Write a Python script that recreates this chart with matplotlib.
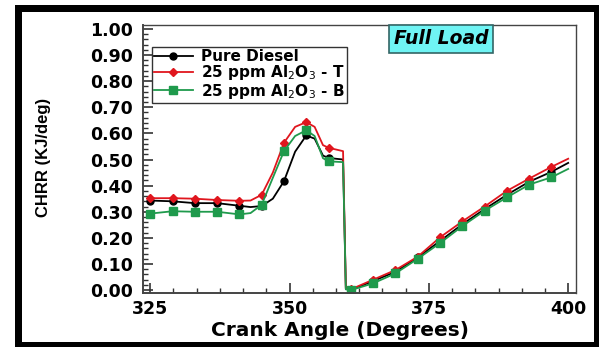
import matplotlib
matplotlib.use("Agg")
import matplotlib.pyplot as plt
from matplotlib.ticker import AutoMinorLocator, MultipleLocator, FormatStrFormatter
from matplotlib.patches import Rectangle

# Crank angle samples (degrees) and heat-release rate for each fuel
crank = [325, 329, 333, 337, 341, 343, 345, 347, 349, 351, 353, 354.5, 356, 357,
         359.6, 360.1, 361, 365, 369, 373, 377, 381, 385, 389, 393, 397, 400]
pure_diesel = [0.343, 0.340, 0.333, 0.333, 0.323, 0.318, 0.322, 0.350, 0.417, 0.530,
               0.592, 0.580, 0.515, 0.506, 0.500, 0.005, 0.000, 0.035, 0.070, 0.125,
               0.188, 0.252, 0.310, 0.365, 0.415, 0.453, 0.487]
al2o3_t = [0.352, 0.352, 0.350, 0.345, 0.342, 0.343, 0.365, 0.450, 0.564, 0.625,
           0.643, 0.625, 0.555, 0.545, 0.532, 0.008, 0.003, 0.040, 0.077, 0.128,
           0.202, 0.263, 0.320, 0.380, 0.427, 0.472, 0.503]
al2o3_b = [0.293, 0.302, 0.300, 0.300, 0.290, 0.295, 0.327, 0.430, 0.532, 0.590,
           0.612, 0.590, 0.505, 0.493, 0.490, 0.003, 0.000, 0.026, 0.064, 0.120,
           0.180, 0.245, 0.304, 0.355, 0.404, 0.432, 0.464]
marker_angles = list(range(325, 398, 4))

series_labels = ["Pure Diesel", r"25 ppm Al$_2$O$_3$ - T", r"25 ppm Al$_2$O$_3$ - B"]

marks = [i for i, a in enumerate(crank) if a in marker_angles]

fig = plt.figure(figsize=(5.99, 3.47), dpi=100)
ax = fig.add_axes([0.2387, 0.1556, 0.9616 - 0.2387, 0.928 - 0.1556])

ax.plot(crank, pure_diesel, color="black", lw=1.3, marker="o", ms=5,
        markevery=marks, label=series_labels[0])
ax.plot(crank, al2o3_t, color="#e0161e", lw=1.3, marker="D", ms=4,
        markevery=marks, label=series_labels[1])
ax.plot(crank, al2o3_b, color="#1f9a4c", lw=1.3, marker="s", ms=5.5,
        markevery=marks, label=series_labels[2])

ax.set_xlim(323.7, 401.4)
ax.set_ylim(-0.011, 1.015)
ax.xaxis.set_major_locator(MultipleLocator(25))
ax.xaxis.set_minor_locator(AutoMinorLocator(6))
ax.yaxis.set_major_locator(MultipleLocator(0.1))
ax.yaxis.set_minor_locator(AutoMinorLocator(5))
ax.yaxis.set_major_formatter(FormatStrFormatter("%.2f"))

ax.tick_params(which="both", direction="in", colors="#333333", top=False, right=False)
ax.tick_params(which="major", length=7, width=1.2, labelsize=12.5, pad=7,
               labelcolor="black")
ax.tick_params(axis="x", which="major", pad=5)
ax.tick_params(which="minor", length=3.5, width=1.0)
for lab in ax.get_xticklabels() + ax.get_yticklabels():
    lab.set_fontweight("bold")

for side, sp in ax.spines.items():
    sp.set_color("#444444")
    sp.set_linewidth(1.0)
ax.spines["left"].set_linewidth(1.4)
ax.spines["bottom"].set_linewidth(1.4)

ax.set_xlabel("Crank Angle (Degrees)", fontsize=14.5, fontweight="bold")
ax.xaxis.set_label_coords(0.455, -0.105)
fig.text(0.073, 0.545, "CHRR (KJ/deg)", rotation=90, ha="center", va="center",
         fontsize=12, fontweight="bold", family=["Liberation Sans", "DejaVu Sans"])

leg = ax.legend(loc="upper left", bbox_to_anchor=(0.021, 0.918), borderaxespad=0,
                prop={"weight": "bold", "size": 11}, handlelength=2.5,
                handletextpad=0.55, labelspacing=-0.05, borderpad=0.15,
                fancybox=False, framealpha=1)
leg.get_frame().set_edgecolor("#333333")
leg.get_frame().set_linewidth(1.0)

ax.text(0.688, 0.948, "Full Load", transform=ax.transAxes, ha="center", va="center",
        fontsize=13.5, fontweight="bold", fontstyle="italic",
        bbox=dict(boxstyle="square,pad=0.25", facecolor="#6ff4f4",
                  edgecolor="#336666", linewidth=1.2))

# heavy black frame around the figure
W, H = 599.0, 347.0
fig.patches.append(Rectangle((17.5 / W, 2.0 / H), (596.5 - 17.5) / W, (339.5 - 2.0) / H,
                             transform=fig.transFigure, fill=False,
                             edgecolor="black", linewidth=7 * 72 / 100))

fig.savefig("out.png", dpi=100)
